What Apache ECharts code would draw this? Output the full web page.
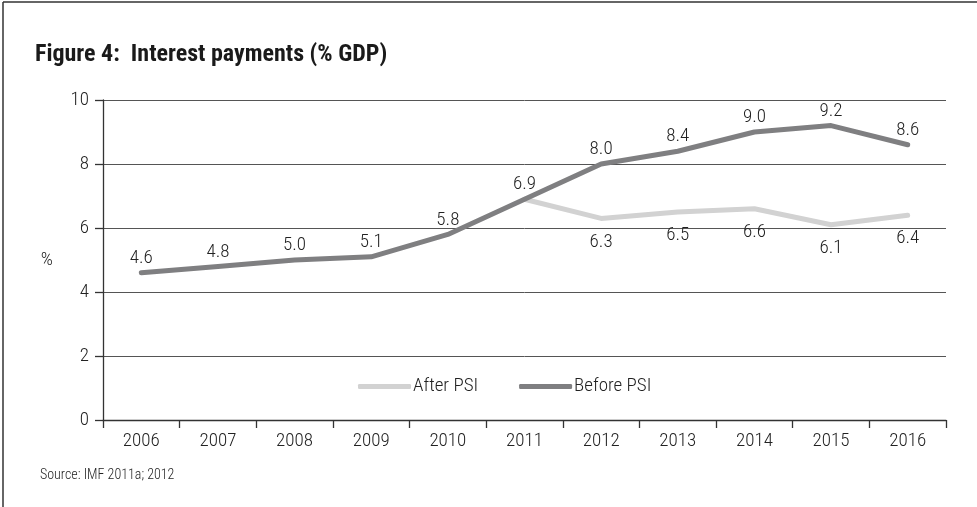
<!DOCTYPE html>
<html>
<head>
<meta charset="utf-8">
<script src="https://cdn.jsdelivr.net/npm/echarts@6/dist/echarts.min.js"></script>
<style>
  html, body { margin: 0; padding: 0; background: #fff; }
  #chart { width: 977px; height: 507px; }
</style>
</head>
<body>
<div id="chart"></div>
<script>
// data
var years = ["2006", "2007", "2008", "2009", "2010", "2011", "2012", "2013", "2014", "2015", "2016"];
var beforePSI = [4.6, 4.8, 5.0, 5.1, 5.8, 6.9, 8.0, 8.4, 9.0, 9.2, 8.6];
var afterPSI = [null, null, null, null, null, 6.9, 6.3, 6.5, 6.6, 6.1, 6.4];
// only these After PSI points carry a label (2011 is labelled by Before PSI)
var afterLabelFrom = 6;

var FONT = "'Roboto Condensed', 'Open Sans Condensed', sans-serif";
var TXT = "#222";

var myChart = echarts.init(document.getElementById("chart"));
myChart.setOption({
  animation: false,
  textStyle: { fontFamily: FONT, color: TXT },
  title: {
    text: "Figure 4:  Interest payments (% GDP)",
    left: 35,
    top: 43,
    padding: 0,
    textStyle: { fontFamily: FONT, fontWeight: "bold", fontSize: 24, color: "#1a1a1a" }
  },
  graphic: [
    // frame lines at top and left
    { type: "line", shape: { x1: 3, y1: 2, x2: 977, y2: 2 }, style: { stroke: "#333", lineWidth: 1.5 } },
    { type: "line", shape: { x1: 3, y1: 2, x2: 3, y2: 507 }, style: { stroke: "#333", lineWidth: 1.5 } },
    {
      type: "text", left: 40, top: 468,
      style: { text: "Source: IMF 2011a; 2012", font: "300 14px " + FONT, fill: TXT }
    }
  ],
  legend: {
    data: ["After PSI", "Before PSI"],
    left: 358,
    top: 377,
    padding: 0,
    itemWidth: 53,
    itemHeight: 5,
    itemGap: 41,
    icon: "roundRect",
    textStyle: { fontFamily: FONT, fontWeight: 300, fontSize: 19, color: TXT, padding: [0, 0, 0, -3] }
  },
  grid: { left: 103, right: 31, top: 100, bottom: 87 },
  xAxis: {
    type: "category",
    data: years,
    boundaryGap: true,
    axisLine: { lineStyle: { color: "#333", width: 1.3 } },
    axisTick: { show: true, length: 8, lineStyle: { color: "#333", width: 1.3 } },
    axisLabel: { fontFamily: FONT, fontWeight: 300, fontSize: 19, color: TXT, margin: 12 }
  },
  yAxis: {
    type: "value",
    min: 0,
    max: 10,
    interval: 2,
    name: "%",
    nameLocation: "middle",
    nameRotate: 0,
    nameGap: 50,
    nameTextStyle: { fontFamily: FONT, fontWeight: 300, fontSize: 19, color: TXT, padding: [16, 0, 0, 0] },
    axisLine: { show: true, lineStyle: { color: "#333", width: 1.3 } },
    axisTick: { show: true, length: 8, lineStyle: { color: "#333", width: 1.3 } },
    axisLabel: { fontFamily: FONT, fontWeight: 300, fontSize: 19, color: TXT, margin: 14 },
    splitLine: { lineStyle: { color: "#555", width: 1 } }
  },
  series: [
    {
      name: "After PSI",
      type: "line",
      data: afterPSI,
      symbol: "circle",
      symbolSize: 0,
      showSymbol: true,
      z: 2,
      color: "#d2d2d2",
      lineStyle: { color: "#d2d2d2", width: 5, cap: "round", join: "round" },
      label: {
        show: true,
        position: "bottom",
        distance: 14,
        fontFamily: FONT,
        fontWeight: 300,
        fontSize: 19,
        color: TXT,
        formatter: function (p) {
          return p.dataIndex >= afterLabelFrom ? p.value.toFixed(1) : "";
        }
      }
    },
    {
      name: "Before PSI",
      type: "line",
      data: beforePSI,
      symbol: "circle",
      symbolSize: 0,
      showSymbol: true,
      z: 3,
      color: "#7f7f81",
      lineStyle: { color: "#7f7f81", width: 5, cap: "round", join: "round" },
      label: {
        show: true,
        position: "top",
        distance: 5,
        fontFamily: FONT,
        fontWeight: 300,
        fontSize: 19,
        color: TXT,
        formatter: function (p) { return p.value.toFixed(1); }
      }
    }
  ]
});
</script>
</body>
</html>
